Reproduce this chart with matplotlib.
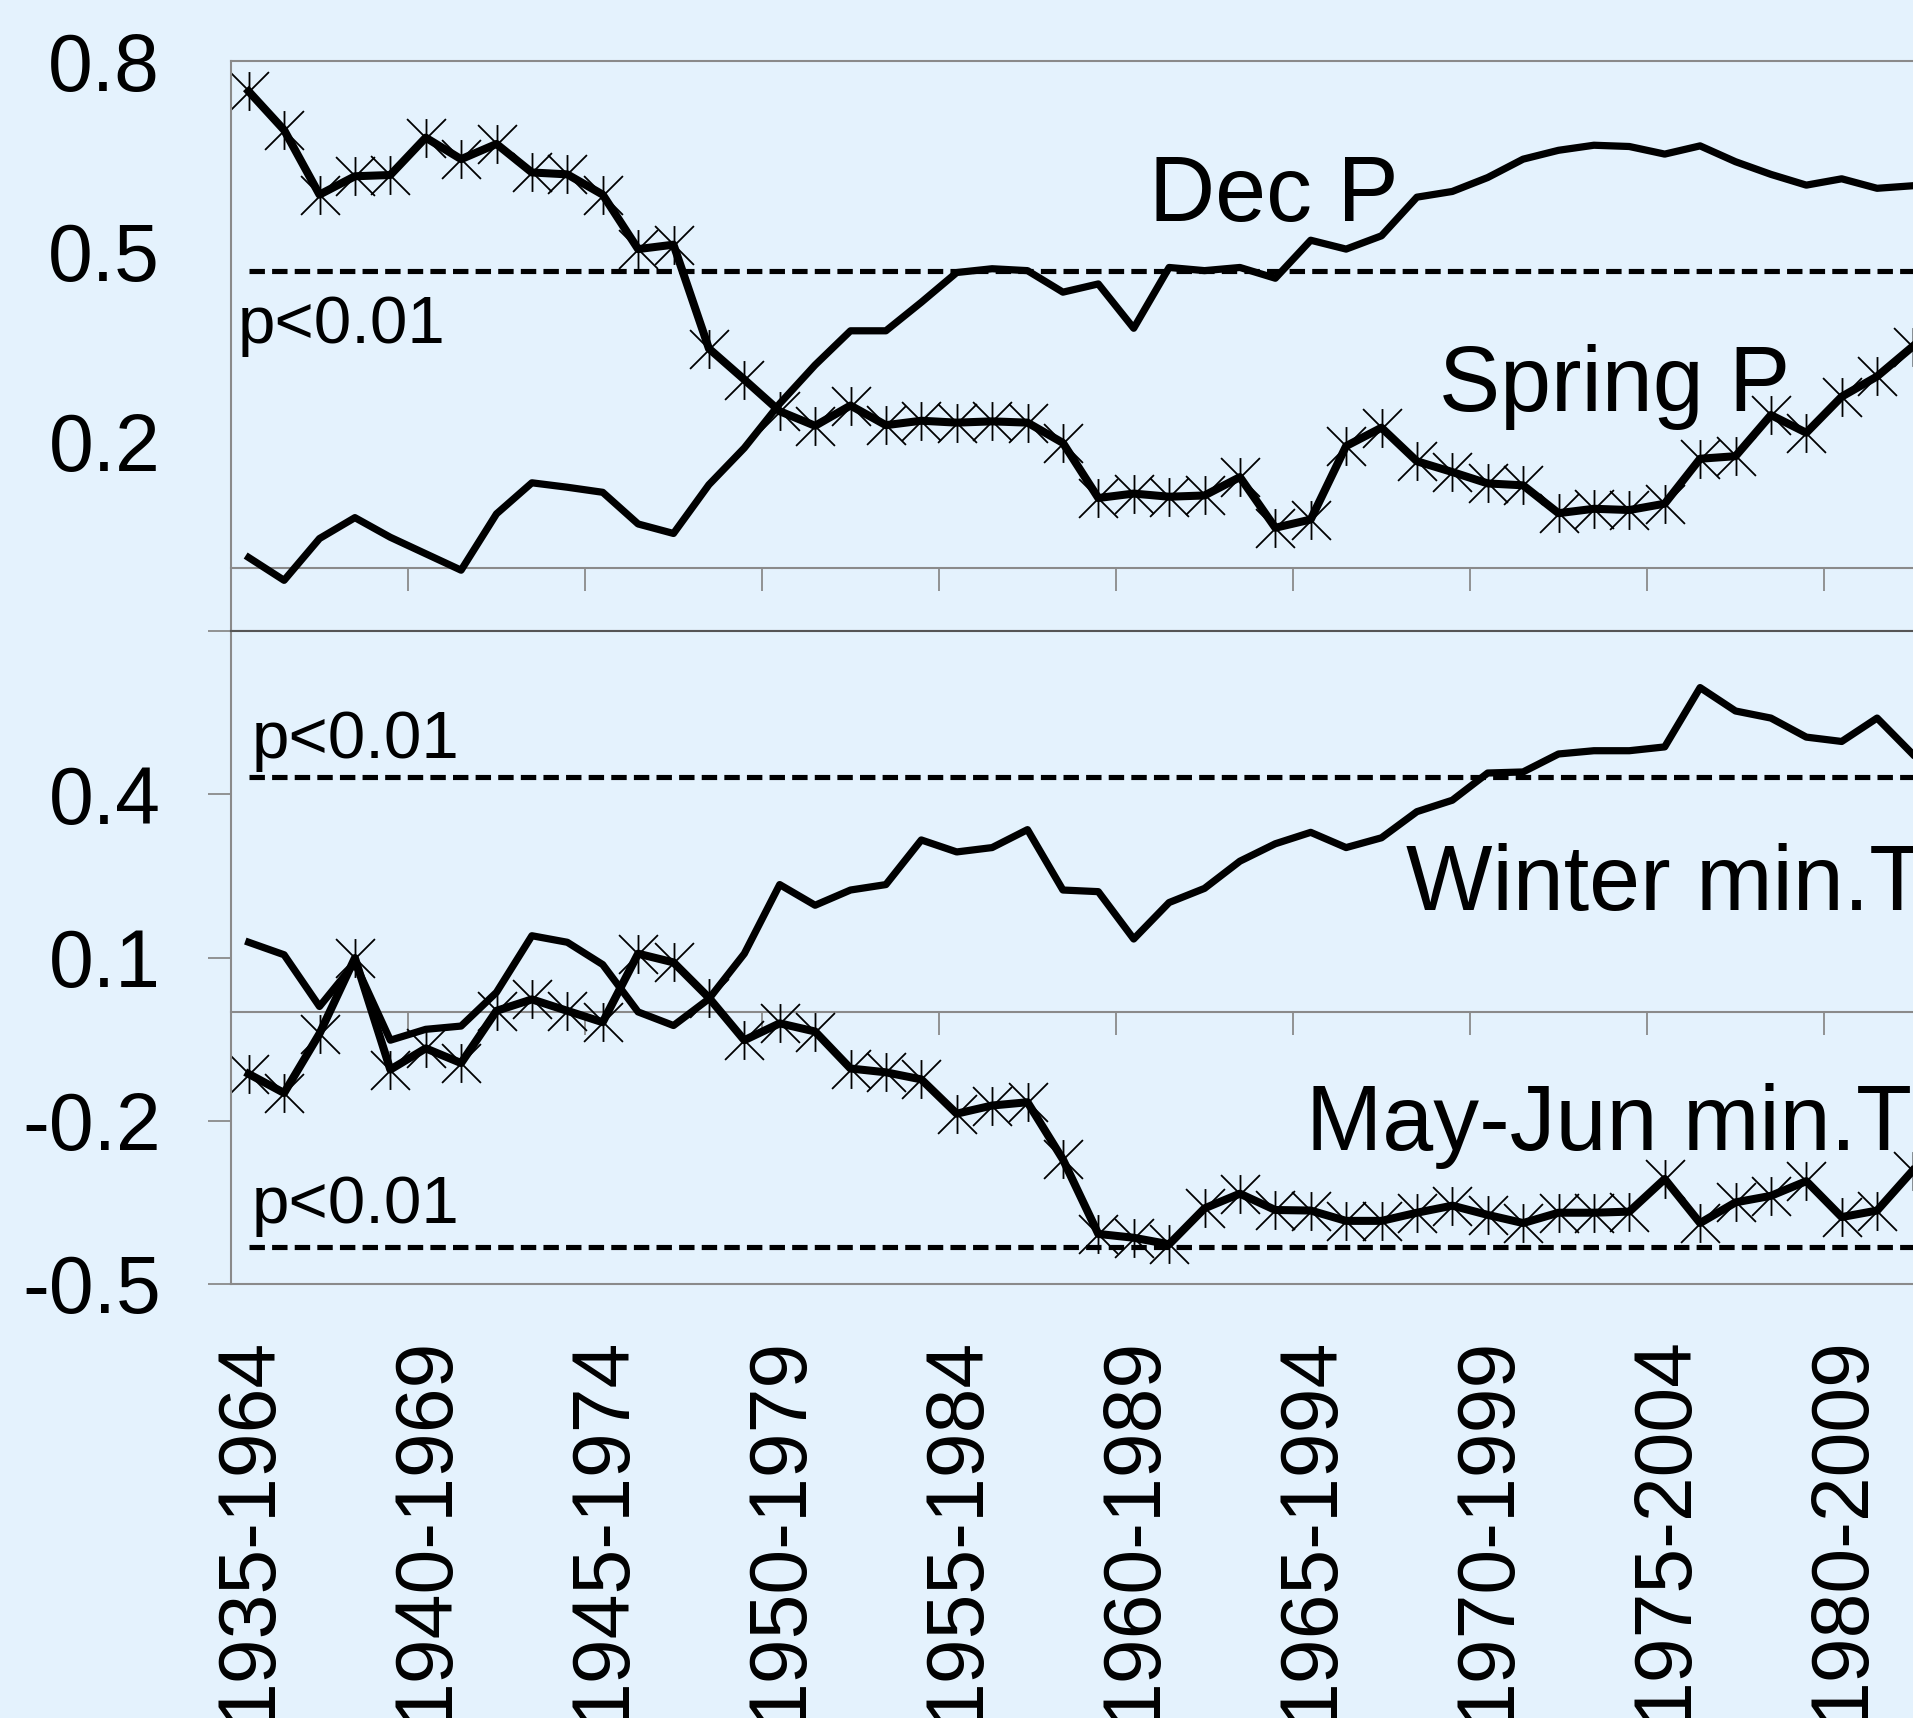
import numpy as np
import matplotlib.pyplot as plt
from matplotlib.path import Path

plt.rcParams['font.family'] = ['Liberation Sans', 'DejaVu Sans']

# 30-year moving windows
windows = [f"{y}-{y + 29}" for y in range(1935, 1983)]

dec_p = [0.016, -0.020, 0.046, 0.079, 0.048, 0.022, -0.004, 0.085, 0.134, 0.127,
         0.119, 0.069, 0.054, 0.131, 0.189, 0.259, 0.320, 0.374, 0.374, 0.419,
         0.466, 0.472, 0.469, 0.435, 0.448, 0.378, 0.474, 0.469, 0.474, 0.457,
         0.517, 0.503, 0.524, 0.585, 0.594, 0.616, 0.645, 0.659, 0.667, 0.665,
         0.653, 0.666, 0.641, 0.621, 0.604, 0.614, 0.599, 0.603]
spring_p = [0.752, 0.691, 0.589, 0.618, 0.620, 0.679, 0.645, 0.669, 0.624, 0.621,
            0.589, 0.503, 0.510, 0.346, 0.297, 0.247, 0.224, 0.256, 0.225, 0.232,
            0.229, 0.231, 0.229, 0.197, 0.110, 0.117, 0.112, 0.114, 0.143, 0.063,
            0.076, 0.192, 0.221, 0.168, 0.151, 0.133, 0.130, 0.086, 0.093, 0.091,
            0.101, 0.172, 0.176, 0.241, 0.213, 0.270, 0.302, 0.349]
winter_tmin = [0.128, 0.105, 0.010, 0.090, -0.052, -0.032, -0.026, 0.036, 0.140, 0.128,
               0.087, 0.000, -0.025, 0.024, 0.107, 0.234, 0.196, 0.224, 0.234, 0.316,
               0.294, 0.302, 0.335, 0.224, 0.221, 0.134, 0.201, 0.227, 0.277, 0.309,
               0.330, 0.302, 0.320, 0.368, 0.389, 0.439, 0.441, 0.474, 0.480, 0.480,
               0.487, 0.596, 0.553, 0.540, 0.505, 0.497, 0.540, 0.474]
mayjun_tmin = [-0.114, -0.149, -0.040, 0.099, -0.106, -0.067, -0.094, 0.002, 0.023, 0.002,
               -0.019, 0.107, 0.091, 0.026, -0.052, -0.021, -0.036, -0.104, -0.111, -0.124,
               -0.187, -0.172, -0.166, -0.271, -0.408, -0.415, -0.427, -0.361, -0.334, -0.364,
               -0.365, -0.384, -0.384, -0.369, -0.356, -0.373, -0.388, -0.369, -0.369, -0.367,
               -0.307, -0.388, -0.350, -0.338, -0.311, -0.377, -0.365, -0.292]

sig_p = 0.468      # p<0.01 threshold, precipitation panel
sig_t = 0.432      # p<0.01 threshold, temperature panel

bg = '#E4F2FD'
grey = '#8a8a8a'
W, H = 1913, 1718

# asterisk marker like Excel's: vertical bar plus an X
star = Path([(0, -1), (0, 1), (-1, -1), (1, 1), (-1, 1), (1, -1)],
            [Path.MOVETO, Path.LINETO] * 3)

fig = plt.figure(figsize=(W / 100, H / 100), dpi=100, facecolor=bg)

def px_axes(left, top, bottom, ncat=50):
    width = ncat * 35.4
    return fig.add_axes([left / W, 1 - bottom / H, width / W, (bottom - top) / H])

ax1 = px_axes(231, 61, 631)
ax2 = px_axes(231, 631, 1284)
x = np.arange(len(windows))

for ax, ylim in ((ax1, (-0.1, 0.8)), (ax2, (-0.5, 0.7))):
    ax.set_facecolor(bg)
    ax.set_xlim(-0.5, 49.5)
    ax.set_ylim(*ylim)
    ax.spines['right'].set_visible(False)
    for s in ('left', 'top', 'bottom'):
        ax.spines[s].set_color(grey)
        ax.spines[s].set_linewidth(1.5)
    # zero line with category-boundary ticks
    y0 = -ylim[0] / (ylim[1] - ylim[0])
    sec = ax.secondary_xaxis(y0)
    sec.set_xticks(np.arange(4.5, 50, 5))
    sec.tick_params(axis='x', direction='out', length=16.5, width=1.3,
                    color=grey, labelbottom=False, labeltop=False)
    for s in sec.spines.values():
        s.set_color(grey)
        s.set_linewidth(1.5)

ax2.spines['top'].set_color('#555555')

line_kw = dict(color='k', lw=5.2)
star_kw = dict(color='k', lw=5.8, marker=star, ms=28, mfc='none', mec='k', mew=1.3)
dash_kw = dict(colors='k', lw=3.7, linestyles=(0, (3.0, 1.4)))

# top panel: precipitation
ax1.plot(x, dec_p, **line_kw)
ax1.plot(x, spring_p, **star_kw)
ax1.hlines(sig_p, 0, 49.5, **dash_kw)

ax1.set_yticks([0.2, 0.5, 0.8], ['0.2', '0.5', '0.8'])
ax1.tick_params(axis='y', length=0, pad=51, labelsize=58)
ax1.tick_params(axis='x', length=0, labelbottom=False)

# bottom panel: minimum temperature
ax2.plot(x, winter_tmin, **line_kw)
ax2.plot(x, mayjun_tmin, **star_kw)
ax2.hlines([sig_t, -sig_t], 0, 49.5, **dash_kw)

ax2.set_yticks([-0.5, -0.2, 0.1, 0.4, 0.7], ['-0.5', '-0.2', '0.1', '0.4', ''])
ax2.tick_params(axis='y', direction='out', length=16.5, width=1.3, color=grey,
                pad=34, labelsize=58)
ax2.set_xticks(x[::5], windows[::5])
ax2.tick_params(axis='x', length=0, pad=37, labelsize=58, labelrotation=90)

def label(px, py, s, size):
    fig.text(px / W, 1 - py / H, s, fontsize=size, va='baseline', ha='left')

label(1149, 221, 'Dec P', 66)
label(1439, 411, 'Spring P', 66)
label(1406, 910, 'Winter min.T', 66)
label(1306, 1150, 'May-Jun min.T', 66)
label(238, 343, 'p<0.01', 48.5)
label(252, 758, 'p<0.01', 48.5)
label(252, 1223, 'p<0.01', 48.5)

fig.savefig('out.png', dpi=100, facecolor=bg)
